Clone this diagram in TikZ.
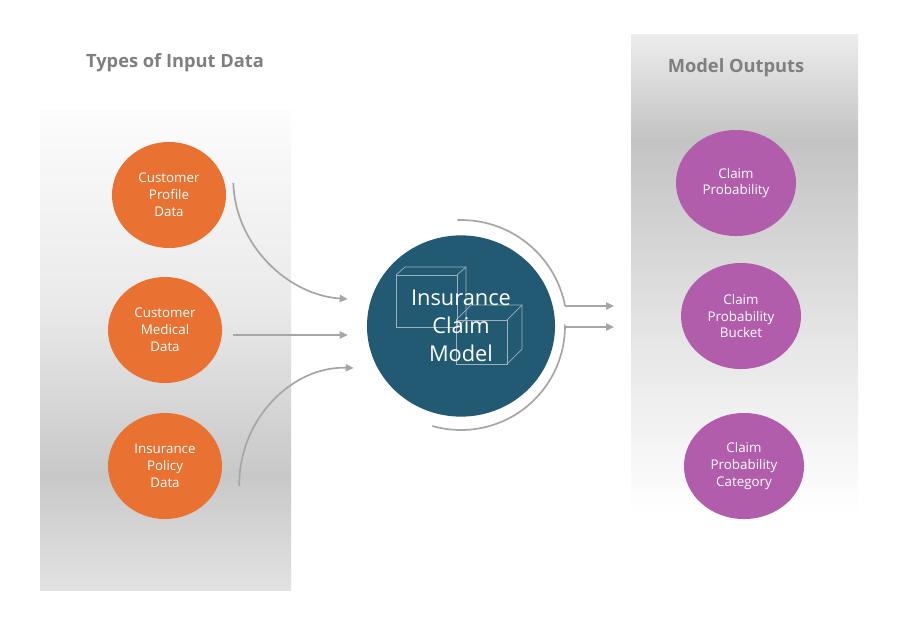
\documentclass[tikz,border=0pt]{standalone}
\usepackage{fontspec}
\setmainfont{Open Sans}
\usepackage{xcolor}
\usetikzlibrary{shapes.geometric,arrows.meta,positioning,calc}
\definecolor{naranja}{HTML}{E97132}
\definecolor{petroleo}{HTML}{225A73}
\definecolor{violeta}{HTML}{B25DAC}
\definecolor{grisflecha}{HTML}{A6A6A6}
\definecolor{gristitulo}{HTML}{7F7F7F}
\definecolor{griscubo}{HTML}{9DB2BE}
\definecolor{pa}{HTML}{E2E2E2}
\definecolor{pb}{HTML}{C8C8C8}
\definecolor{pc}{HTML}{EAEAEA}
\definecolor{pd}{HTML}{FCFCFC}
\definecolor{sa}{HTML}{FFFFFF}
\definecolor{sb}{HTML}{E3E3E3}
\definecolor{sc}{HTML}{C3C3C3}
\definecolor{sd}{HTML}{EDEDED}
\pgfdeclareverticalshading{panelentrada}{100bp}{color(0bp)=(pa); color(25bp)=(pa);
  color(37bp)=(pb); color(55bp)=(pc); color(75bp)=(pd); color(100bp)=(pd)}
\pgfdeclareverticalshading{panelsalida}{100bp}{color(0bp)=(sa); color(25bp)=(sa);
  color(45bp)=(sb); color(64bp)=(sc); color(75bp)=(sd); color(100bp)=(sd)}
\tikzset{
  titulo/.style={font=\fontsize{13}{15}\selectfont\bfseries, text=gristitulo},
  entrada/.style={ellipse, fill=naranja, text=white, minimum width=2.85cm,
                  minimum height=2.65cm, align=center, inner sep=0pt,
                  font=\fontsize{9.5}{12}\selectfont},
  salida/.style={ellipse, fill=violeta, text=white, minimum width=3.0cm,
                 minimum height=2.65cm, align=center, inner sep=0pt,
                 font=\fontsize{9.5}{12}\selectfont},
  modelo/.style={ellipse, fill=petroleo, minimum width=4.7cm, minimum height=4.53cm},
  modtexto/.style={text=white, align=center, font=\fontsize{15.5}{20}\selectfont},
  cubo/.style={draw=griscubo, line width=0.5pt},
  flecha/.style={-{Triangle[length=2mm,width=1.8mm]}, line width=1.2pt, draw=grisflecha},
  arco/.style={line width=1.2pt, draw=grisflecha}
}
\begin{document}
\begin{tikzpicture}[x=0.025cm,y=-0.025cm]
  % --- Fondo y paneles ---
  \fill[white] (0,0) rectangle (905,626);
  \useasboundingbox (0,0) rectangle (905,626);
  \shade[shading=panelentrada] (40,110) rectangle (291,590);
  \shade[shading=panelsalida] (631,34) rectangle (858,515);
  \node[titulo] (tin) at (175,63) {Types of Input Data};
  \node[titulo] (tout) at (736,68) {Model Outputs};

  % --- Entradas ---
  \node[entrada] (cpd) at (169,195) {Customer\\Profile\\Data};
  \node[entrada] (cmd) at (165,330) {Customer\\Medical\\Data};
  \node[entrada] (ipd) at (165,466) {Insurance\\Policy\\Data};

  % --- Modelo (circulo + cubos) ---
  \node[modelo] (icm) at (461,326) {};
  \def\a{9}\def\b{8}   % profundidad cubo 1
  \draw[cubo] (396,275) rectangle (457,327);
  \draw[cubo] (396,275) -- ++(\a,-\b) -- (457+\a,275-\b) -- (457+\a,327-\b) -- (457,327);
  \draw[cubo] (457,275) -- ++(\a,-\b);
  \def\a{15}\def\b{15} % profundidad cubo 2
  \draw[cubo] (456,320) rectangle (507,364);
  \draw[cubo] (456,320) -- ++(\a,-\b) -- (507+\a,320-\b) -- (507+\a,364-\b) -- (507,364);
  \draw[cubo] (507,320) -- ++(\a,-\b);
  \node[modtexto] (icmtxt) at (icm) {Insurance\\Claim\\Model};

  % --- Salidas ---
  \node[salida] (cp)  at (736,183) {Claim\\Probability};
  \node[salida] (cpb) at (741,316) {Claim\\Probability\\Bucket};
  \node[salida] (cpc) at (744,466) {Claim\\Probability\\Category};

  % --- Flechas de entrada ---
  \coordinate (e1) at ($(cpd.east)+(7,-12)$);
  \coordinate (e2) at ($(cmd.east)+(11,5)$);
  \coordinate (e3) at ($(ipd.east)+(17,20)$);
  \coordinate (m1) at ($(icm.west)+(-19,-27)$);
  \coordinate (m2) at ($(icm.west)+(-19,9)$);
  \coordinate (m3) at ($(icm.west)+(-13,42)$);
  \draw[flecha] (e1) .. controls ($(e1)+(2,62)$) and ($(m1)+(-60,-4)$) .. (m1);
  \draw[flecha] (e2) -- (m2);
  \draw[flecha] (e3) .. controls ($(e3)+(-1,-66)$) and ($(m3)+(-62,-2)$) .. (m3);

  % --- Flechas de salida ---
  \coordinate (s1) at (614,306);
  \coordinate (s2) at (614,327);
  \draw[arco] ($(icm)+(-92:106)$) arc[start angle=-92, end angle=-11, radius=106] -- (565,306);
  \draw[flecha] (565,306) -- (s1);
  \draw[arco] ($(icm)+(106:104)$) arc[start angle=106, end angle=0, radius=104] -- (566,327);
  \draw[flecha] (566,327) -- (s2);
\end{tikzpicture}
\end{document}
